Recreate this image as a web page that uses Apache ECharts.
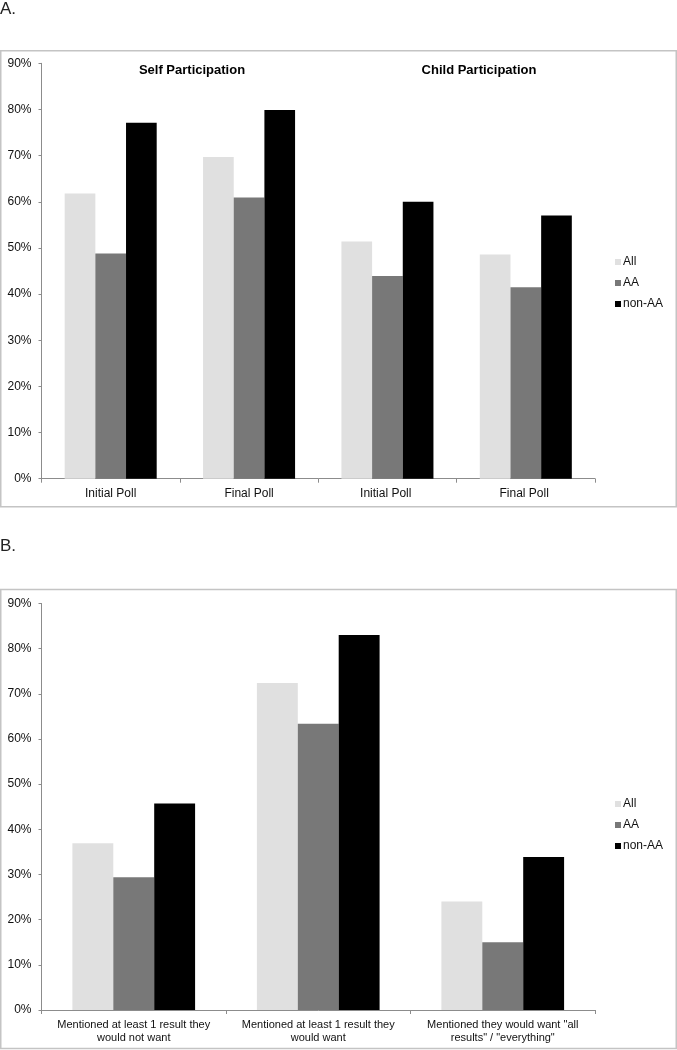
<!DOCTYPE html>
<html>
<head>
<meta charset="utf-8">
<script src="https://cdn.jsdelivr.net/npm/echarts@6/dist/echarts.min.js"></script>
<style>
html,body{margin:0;padding:0;background:#fff;}
#c{width:677px;height:1050px;}
</style>
</head>
<body>
<div id="c"></div>
<script>
// Panel A
const catsA = ['Initial Poll', 'Final Poll', 'Initial Poll ', 'Final Poll '];
const allA = [61.8, 69.7, 51.4, 48.6];
const aaA = [48.8, 60.9, 43.9, 41.5];
const nonAaA = [77.1, 79.9, 60.0, 57.0];
const groupTitlesA = ['Self Participation', 'Child Participation'];

// Panel B
const catsB = ['Mentioned at least 1 result they\nwould not want', 'Mentioned at least 1 result they\nwould want', 'Mentioned they would want "all\nresults" / "everything"'];
const allB = [36.9, 72.4, 24.0];
const aaB = [29.4, 63.4, 15.0];
const nonAaB = [45.7, 83.0, 33.9];

const seriesNames = ['All', 'AA', 'non-AA'];
const yTicks = { min: 0, max: 90, interval: 10 };

const FONT = "'Liberation Sans', Arial, sans-serif";
const colors = ['#e0e0e0', '#787878', '#000000'];
const axisCol = '#8c8c8c';

const chart = echarts.init(document.getElementById('c'), null, { renderer: 'canvas' });

function xAx(gridIndex, data, fs) {
  return {
    type: 'category', gridIndex, data,
    axisLine: { lineStyle: { color: axisCol, width: 1 } },
    axisTick: { show: true, length: 4, lineStyle: { color: axisCol } },
    axisLabel: { color: '#111', fontSize: fs, fontFamily: FONT, margin: 8, lineHeight: 13, interval: 0 },
    splitLine: { show: false }
  };
}
function yAx(gridIndex) {
  return {
    type: 'value', gridIndex, min: yTicks.min, max: yTicks.max, interval: yTicks.interval,
    axisLine: { show: true, lineStyle: { color: axisCol, width: 1 } },
    axisTick: { show: true, length: 3, lineStyle: { color: axisCol } },
    axisLabel: { color: '#111', fontSize: 12, fontFamily: FONT, margin: 10, formatter: '{value}%' },
    splitLine: { show: false }
  };
}
function bars(idx, arrs) {
  return arrs.map((d, i) => ({
    name: seriesNames[i], type: 'bar', xAxisIndex: idx, yAxisIndex: idx, data: d,
    barGap: '0%', barCategoryGap: '33.5%',
    itemStyle: { color: colors[i] }, emphasis: { disabled: true }, animation: false
  }));
}
function legend(top) {
  return {
    data: seriesNames, orient: 'vertical', left: 610, top,
    itemWidth: 6, itemHeight: 6, itemGap: 9, icon: 'rect',
    textStyle: { fontSize: 12, fontFamily: FONT, color: '#111', lineHeight: 12, padding: [0, 0, 0, -3] },
    selectedMode: false
  };
}

chart.setOption({
  animation: false,
  grid: [
    { left: 41.5, right: 82, top: 63.3, bottom: 1050 - 478.7 },
    { left: 41.5, right: 82, top: 603.5, bottom: 40 }
  ],
  xAxis: [xAx(0, catsA, 12), xAx(1, catsB, 11)],
  yAxis: [yAx(0), yAx(1)],
  legend: [legend(251), legend(793)],
  series: [...bars(0, [allA, aaA, nonAaA]), ...bars(1, [allB, aaB, nonAaB])],
  graphic: [
    { type: 'rect', shape: { x: 0.75, y: 50.75, width: 675.5, height: 456 }, style: { fill: 'none', stroke: '#c4c4c4', lineWidth: 1.5 }, silent: true },
    { type: 'rect', shape: { x: 0.75, y: 589.5, width: 675.5, height: 459 }, style: { fill: 'none', stroke: '#c4c4c4', lineWidth: 1.5 }, silent: true },
    { type: 'text', x: 0, y: 9.5, style: { text: 'A.', fontSize: 17, fontFamily: FONT, fill: '#222', verticalAlign: 'middle' }, silent: true },
    { type: 'text', x: 0, y: 546.5, style: { text: 'B.', fontSize: 17, fontFamily: FONT, fill: '#222', verticalAlign: 'middle' }, silent: true },
    { type: 'text', x: 192, y: 70, style: { text: groupTitlesA[0], fontSize: 13, fontWeight: 'bold', fontFamily: FONT, fill: '#000', align: 'center', verticalAlign: 'middle' }, silent: true },
    { type: 'text', x: 479, y: 70, style: { text: groupTitlesA[1], fontSize: 13, fontWeight: 'bold', fontFamily: FONT, fill: '#000', align: 'center', verticalAlign: 'middle' }, silent: true }
  ]
});
</script>
</body>
</html>
